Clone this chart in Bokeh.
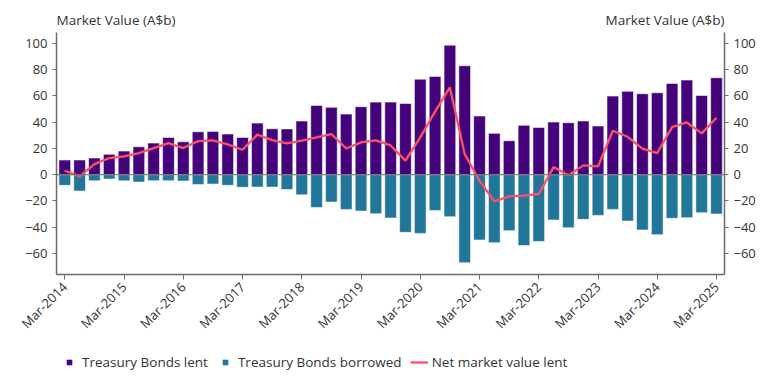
from bokeh.plotting import figure
from bokeh.models import (ColumnDataSource, Range1d, LinearAxis, FixedTicker, Span,
                          Legend, LegendItem)
from bokeh.layouts import column
from bokeh.core.properties import value
from bokeh.embed import file_html
from bokeh.resources import INLINE
import math

quarters = [f"{m}-{y}" for y in range(2014, 2026) for m in ("Mar", "Jun", "Sep", "Dec")][:45]

lent = [11.2, 11.2, 12.7, 15.5, 18.0, 21.3, 24.1, 28.4, 25.1, 32.7, 33.0, 31.0, 28.4, 39.3,
        35.0, 34.9, 40.9, 52.8, 51.3, 46.2, 51.8, 55.3, 55.3, 54.3, 72.8, 74.9, 98.7, 83.0,
        44.7, 31.5, 25.9, 37.6, 36.0, 40.1, 39.6, 40.9, 37.1, 59.9, 63.5, 61.7, 62.4, 69.5,
        72.1, 60.4, 73.9]
borrowed = [-8.1, -12.4, -4.6, -3.3, -4.6, -5.6, -4.6, -4.6, -4.8, -7.4, -7.1, -8.1, -9.6, -9.4,
            -9.4, -11.3, -15.3, -24.9, -20.8, -26.4, -27.7, -29.7, -33.0, -43.9, -44.7, -27.2,
            -32.0, -67.0, -49.7, -51.8, -42.6, -54.0, -50.8, -34.5, -40.4, -34.0, -31.0, -26.4,
            -35.3, -42.1, -45.7, -33.2, -32.7, -28.9, -29.9]
net = [3.0, -1.3, 8.1, 12.7, 14.0, 16.5, 20.3, 24.1, 20.3, 25.6, 26.1, 23.1, 19.0, 30.5, 26.4,
       23.9, 25.9, 28.4, 31.0, 20.0, 24.6, 26.1, 22.3, 10.7, 28.4, 48.0, 66.5, 15.7, -4.6,
       -20.3, -16.5, -16.0, -14.7, 5.8, -0.5, 7.1, 6.3, 33.5, 28.9, 19.8, 16.5, 36.3, 39.8,
       31.5, 43.4]

tick_labels = ["Mar-2014", "Mar-2015", "Mar-2016", "Mar-2017", "Mar-2018", "Mar-2019",
               "Mar-2020", "Mar-2021", "Mar-2022", "Mar-2023", "Mar-2024", "Mar-2025"]
y_ticks = [-60, -40, -20, 0, 20, 40, 60, 80, 100]
axis_title = "Market Value (A$b)"
series_names = ["Treasury Bonds lent", "Treasury Bonds borrowed", "Net market value lent"]

C_LENT = "#44037a"
C_BORR = "#22769a"
C_NET = "#ff5068"
FONT = "Open Sans"
TXT = "#333333"
AX = "#6b6b6b"

Y_LO, Y_HI = -76, 108          # extent of the drawn axes
Y_TOP = 126.6                  # extra room above the axes for the axis titles

xs = list(range(len(quarters)))
src = ColumnDataSource(dict(x=xs, q=quarters, lent=lent, borrowed=borrowed, net=net))

p = figure(frame_width=668, frame_height=266, output_backend="svg", toolbar_location=None,
           x_range=Range1d(-0.56, len(quarters) - 1 + 0.54), y_range=Range1d(Y_LO, Y_TOP),
           min_border_left=56, min_border_right=44, min_border_top=8, min_border_bottom=66,
           background_fill_color="white", border_fill_color="white")
p.outline_line_color = None
p.grid.visible = False

p.vbar(x="x", top="lent", bottom=0, width=0.79, source=src, fill_color=C_LENT,
       line_color="white", line_alpha=0.55, line_width=1)
p.vbar(x="x", top=0, bottom="borrowed", width=0.79, source=src, fill_color=C_BORR,
       line_color="white", line_alpha=0.55, line_width=1)
p.add_layout(Span(location=0, dimension="width", line_color="#666666", line_width=1))
p.line(x="x", y="net", source=src, line_color=C_NET, line_width=2.3)

# axis titles, drawn just above the top of the axes
tsrc = ColumnDataSource(dict(x=[p.x_range.start, p.x_range.end], y=[Y_HI + 10, Y_HI + 10],
                             t=[axis_title, axis_title], a=["left", "right"]))
p.text(x="x", y="y", text="t", text_align="a", source=tsrc, text_baseline="middle",
       text_font=value(FONT), text_font_size="13.5px", text_color=TXT)

def style_axis(ax):
    ax.axis_line_color = AX
    ax.axis_line_width = 1.5
    ax.major_tick_line_color = AX
    ax.minor_tick_line_color = None
    ax.major_label_text_font = FONT
    ax.major_label_text_font_size = "13px"
    ax.major_label_text_color = TXT

xa = p.xaxis[0]
xa.ticker = FixedTicker(ticks=[quarters.index(t) for t in tick_labels])
xa.major_label_overrides = {quarters.index(t): t for t in tick_labels}
xa.major_label_orientation = math.pi / 4
xa.major_tick_out = 5
xa.major_tick_in = 0
style_axis(xa)

ya = p.yaxis[0]
ya.ticker = FixedTicker(ticks=y_ticks)
ya.bounds = (Y_LO, Y_HI)
ya.major_tick_out = 4
ya.major_tick_in = 0
style_axis(ya)

yr = LinearAxis(ticker=FixedTicker(ticks=y_ticks), bounds=(Y_LO, Y_HI))
yr.major_tick_out = 4
yr.major_tick_in = 0
style_axis(yr)
p.add_layout(yr, "right")

# legend strip underneath the chart (proxy renderers hold no visible points)
lg = figure(width=768, height=44, output_backend="svg", toolbar_location=None,
            x_range=Range1d(0, 1), y_range=Range1d(0, 1),
            x_axis_location=None, y_axis_location=None,
            min_border_left=0, min_border_right=0, min_border_top=0, min_border_bottom=0,
            background_fill_color="white", border_fill_color="white")
lg.outline_line_color = None
lg.grid.visible = False
nan = float("nan")
proxy = ColumnDataSource(dict(x=[nan], y=[nan]))
r1 = lg.scatter(x="x", y="y", source=proxy, marker="square", size=8,
                fill_color=C_LENT, line_color=None)
r2 = lg.scatter(x="x", y="y", source=proxy, marker="square", size=8,
                fill_color=C_BORR, line_color=None)
r3 = lg.line(x="x", y="y", source=proxy, line_color=C_NET, line_width=2.3)

legend = Legend(items=[LegendItem(label=series_names[0], renderers=[r1]),
                       LegendItem(label=series_names[1], renderers=[r2]),
                       LegendItem(label=series_names[2], renderers=[r3])],
                orientation="horizontal", location=(4, 14),
                glyph_width=18, glyph_height=14, label_height=14, label_text_font=FONT,
                label_text_font_size="13.5px", label_text_color=TXT,
                border_line_color=None, background_fill_alpha=0, spacing=8,
                label_standoff=4, padding=0, margin=0)
lg.add_layout(legend, "center")

open("out.html", "w").write(file_html(column(p, lg, spacing=0), INLINE))
